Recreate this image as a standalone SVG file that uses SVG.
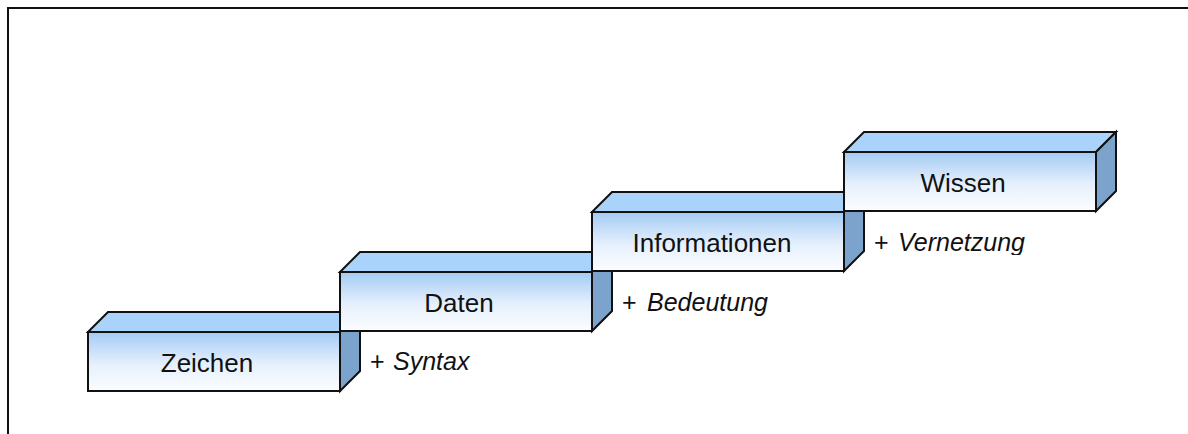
<svg xmlns="http://www.w3.org/2000/svg" width="1188" height="434" viewBox="0 0 1188 434">
  <defs>
    <linearGradient id="frontFill" x1="0" y1="0" x2="0" y2="1">
      <stop offset="0" stop-color="#a3cbf4"/>
      <stop offset="0.55" stop-color="#e6f0fd"/>
      <stop offset="1" stop-color="#fbfdff"/>
    </linearGradient>
    <clipPath id="labelClip">
      <rect x="860" y="220" width="200" height="35"/>
    </clipPath>
  </defs>
  <style>
    .front { fill: url(#frontFill); stroke: #111; stroke-width: 2; }
    .top { fill: #a9d3fb; stroke: #111; stroke-width: 2; stroke-linejoin: miter; }
    .side { fill: #7ba3cb; stroke: #111; stroke-width: 2; }
    .name { font-family: "Liberation Sans", Arial, sans-serif; font-size: 26px; fill: #111; text-anchor: middle; }
    .step { font-family: "Liberation Sans", Arial, sans-serif; font-size: 25px; fill: #111; }
    .step tspan.em { font-style: italic; }
    .frame { stroke: #111; stroke-width: 2; fill: none; }
  </style>

  <rect width="1188" height="434" fill="#ffffff"/>

  <!-- outer frame (open to the right and bottom) -->
  <path class="frame" d="M8,434 V8 H1188"/>

  <!-- stair blocks, drawn left to right so each covers the previous one -->
  <g id="block-zeichen">
    <polygon class="top" points="88,332 108,312 360,312 340,332"/>
    <polygon class="side" points="340,332 360,312 360,371 340,391"/>
    <rect class="front" x="88" y="332" width="252" height="59"/>
    <text class="name" x="207" y="372">Zeichen</text>
  </g>

  <g id="block-daten">
    <polygon class="top" points="340,272 360,252 612,252 592,272"/>
    <polygon class="side" points="592,272 612,252 612,311 592,331"/>
    <rect class="front" x="340" y="272" width="252" height="59"/>
    <text class="name" x="459" y="312">Daten</text>
  </g>

  <g id="block-informationen">
    <polygon class="top" points="592,212 612,192 864,192 844,212"/>
    <polygon class="side" points="844,212 864,192 864,251 844,271"/>
    <rect class="front" x="592" y="212" width="252" height="59"/>
    <text class="name" x="712" y="252">Informationen</text>
  </g>

  <g id="block-wissen">
    <polygon class="top" points="844,152 864,132 1116,132 1096,152"/>
    <polygon class="side" points="1096,152 1116,132 1116,191 1096,211"/>
    <rect class="front" x="844" y="152" width="252" height="59"/>
    <text class="name" x="963" y="192">Wissen</text>
  </g>

  <!-- step annotations -->
  <g id="step-labels">
    <text class="step" x="370" y="370">+<tspan class="em" x="393">Syntax</tspan></text>
    <text class="step" x="622" y="311">+<tspan class="em" x="647">Bedeutung</tspan></text>
    <text class="step" x="874" y="251" clip-path="url(#labelClip)">+<tspan class="em" x="898">Vernetzung</tspan></text>
  </g>
</svg>
